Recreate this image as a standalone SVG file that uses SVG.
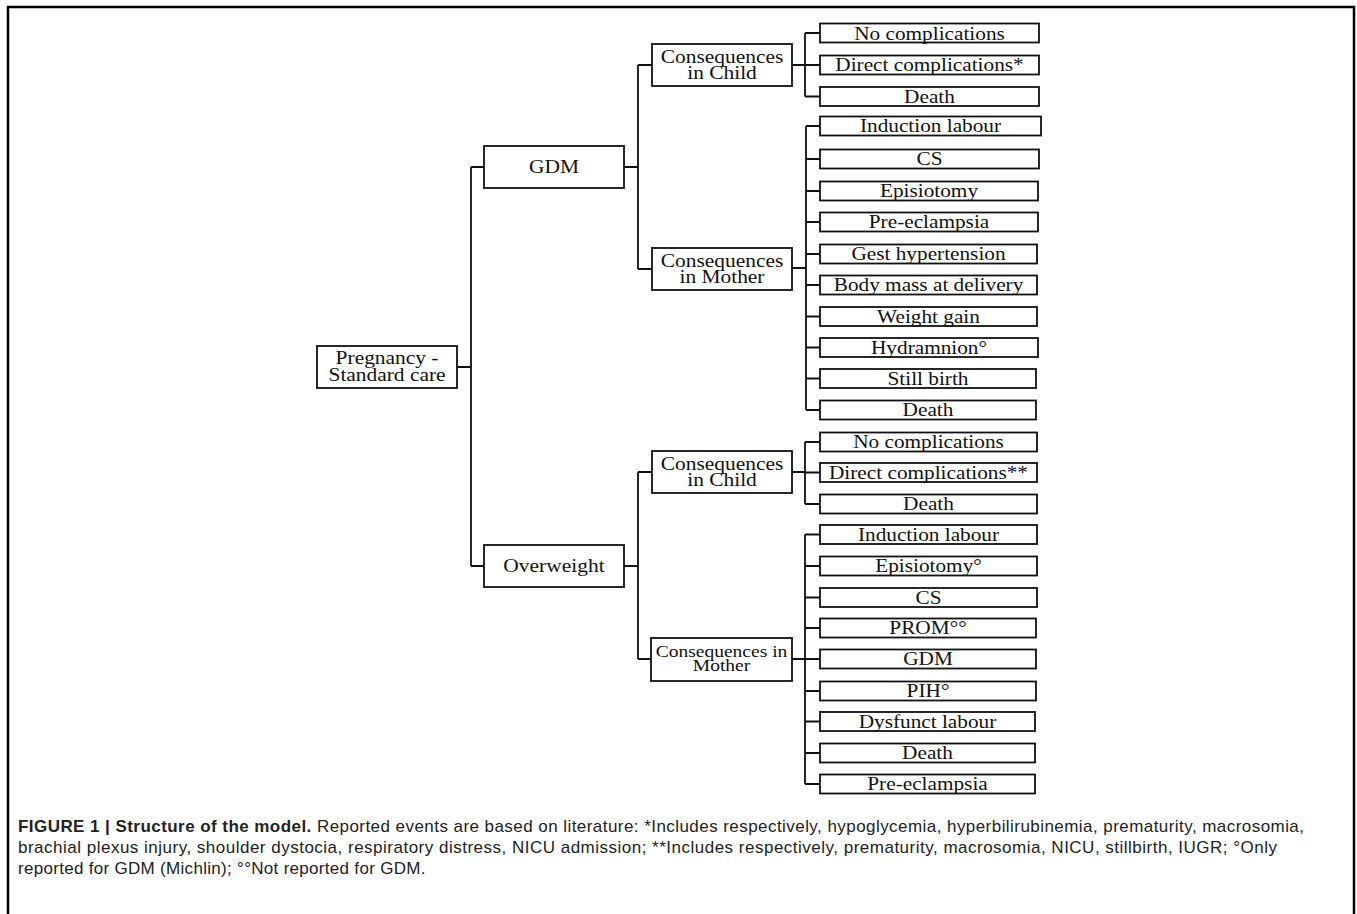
<svg xmlns="http://www.w3.org/2000/svg" width="1357" height="914" viewBox="0 0 1357 914">
<style>
.b{fill:#fff;stroke:#111;stroke-width:1.8}
.c{fill:none;stroke:#111;stroke-width:1.8}
.t{font-family:"Liberation Serif","Times New Roman",serif;font-size:19px;fill:#111;text-anchor:middle}
.d{font-family:"Liberation Serif","Times New Roman",serif;font-size:18px;fill:#111;text-anchor:middle}
.m{font-family:"Liberation Serif","Times New Roman",serif;font-size:16px;fill:#111;text-anchor:middle}
.cap{font-family:"Liberation Sans",Arial,sans-serif;font-size:17px;fill:#222}
</style>
<rect width="1357" height="914" fill="#fff"/>
<path d="M8,914 V7 H1354 V914" fill="none" stroke="#000" stroke-width="2.5"/>
<g id="connectors">
<path class="c" d="M457,367 H471 M471,167 V566 M471,167 H484 M471,566 H484"/>
<path class="c" d="M624,167 H638 M638,65 V269 M638,65 H652 M638,269 H652"/>
<path class="c" d="M624,566 H638 M638,472 V659 M638,472 H652 M638,659 H651"/>
<path class="c" d="M792,65 H805 M805,33 V96.5 M805,33 H820 M805,65 H820 M805,96.5 H820"/>
<path class="c" d="M792,268 H806 M806,126 V410 M806,126 H820 M806,159 H820 M806,191 H820 M806,222 H820 M806,254 H820 M806,285 H820 M806,316.5 H820 M806,347.5 H820 M806,378.5 H820 M806,410 H820"/>
<path class="c" d="M792,472 H805 M805,442 V504 M805,442 H820 M805,472.5 H820 M805,504 H820"/>
<path class="c" d="M792,659 H805 M805,534.5 V784 M805,534.5 H820 M805,566 H820 M805,597.5 H820 M805,628 H820 M805,659 H820 M805,691 H820 M805,721.5 H820 M805,753 H820 M805,784 H820"/>
</g>
<g id="root"><rect class="b" x="317" y="346" width="140" height="42"/><text class="d" transform="translate(387 363.5) scale(1.19 1)">Pregnancy -</text><text class="d" transform="translate(387 380.5) scale(1.19 1)">Standard care</text></g>
<g id="gdm"><rect class="b" x="484" y="146" width="140" height="42"/><text class="t" transform="translate(554 173) scale(1.13 1)">GDM</text></g>
<g id="overweight"><rect class="b" x="484" y="545" width="140" height="42"/><text class="t" transform="translate(554 572) scale(1.13 1)">Overweight</text></g>
<g id="gdm-child"><rect class="b" x="652" y="44" width="140" height="42"/><text class="d" transform="translate(722 62.5) scale(1.19 1)">Consequences</text><text class="d" transform="translate(722 79) scale(1.19 1)">in Child</text></g>
<g id="gdm-mother"><rect class="b" x="652" y="248" width="140" height="42"/><text class="d" transform="translate(722 266.5) scale(1.19 1)">Consequences</text><text class="d" transform="translate(722 283) scale(1.19 1)">in Mother</text></g>
<g id="ow-child"><rect class="b" x="652" y="451" width="140" height="42"/><text class="d" transform="translate(722 469.5) scale(1.19 1)">Consequences</text><text class="d" transform="translate(722 486) scale(1.19 1)">in Child</text></g>
<g id="ow-mother"><rect class="b" x="651" y="638" width="141" height="43"/><text class="m" transform="translate(721.5 657) scale(1.22 1)">Consequences in</text><text class="m" transform="translate(721.5 671) scale(1.22 1)">Mother</text></g>
<g id="gc1"><rect class="b" x="820" y="23.5" width="219" height="19"/><text class="t" transform="translate(929.5 39.5) scale(1.12 1)">No complications</text></g>
<g id="gc2"><rect class="b" x="820" y="55.5" width="219" height="19"/><text class="t" transform="translate(929.5 71) scale(1.12 1)">Direct complications*</text></g>
<g id="gc3"><rect class="b" x="820" y="87" width="219" height="19"/><text class="t" transform="translate(929.5 102.5) scale(1.12 1)">Death</text></g>
<g id="gm1"><rect class="b" x="820" y="116.5" width="221" height="19"/><text class="t" transform="translate(930.5 132) scale(1.12 1)">Induction labour</text></g>
<g id="gm2"><rect class="b" x="820" y="149.5" width="219" height="19"/><text class="t" transform="translate(929.5 165) scale(1.12 1)">CS</text></g>
<g id="gm3"><rect class="b" x="820" y="181.5" width="218" height="19"/><text class="t" transform="translate(929 197) scale(1.12 1)">Episiotomy</text></g>
<g id="gm4"><rect class="b" x="820" y="212.5" width="218" height="19"/><text class="t" transform="translate(929 228) scale(1.12 1)">Pre-eclampsia</text></g>
<g id="gm5"><rect class="b" x="820" y="244.5" width="217" height="19"/><text class="t" transform="translate(928.5 260) scale(1.12 1)">Gest hypertension</text></g>
<g id="gm6"><rect class="b" x="820" y="275.5" width="217" height="19"/><text class="t" transform="translate(928.5 291) scale(1.12 1)">Body mass at delivery</text></g>
<g id="gm7"><rect class="b" x="820" y="307" width="217" height="19"/><text class="t" transform="translate(928.5 322.5) scale(1.12 1)">Weight gain</text></g>
<g id="gm8"><rect class="b" x="820" y="338" width="218" height="19"/><text class="t" transform="translate(929 353.5) scale(1.12 1)">Hydramnion°</text></g>
<g id="gm9"><rect class="b" x="820" y="369" width="216" height="19"/><text class="t" transform="translate(928 384.5) scale(1.12 1)">Still birth</text></g>
<g id="gm10"><rect class="b" x="820" y="400.5" width="216" height="19"/><text class="t" transform="translate(928 416) scale(1.12 1)">Death</text></g>
<g id="oc1"><rect class="b" x="820" y="432.5" width="217" height="19"/><text class="t" transform="translate(928.5 448) scale(1.12 1)">No complications</text></g>
<g id="oc2"><rect class="b" x="820" y="463" width="217" height="19"/><text class="t" transform="translate(928.5 478.5) scale(1.12 1)">Direct complications**</text></g>
<g id="oc3"><rect class="b" x="820" y="494.5" width="217" height="19"/><text class="t" transform="translate(928.5 510) scale(1.12 1)">Death</text></g>
<g id="om1"><rect class="b" x="820" y="525" width="217" height="19"/><text class="t" transform="translate(928.5 540.5) scale(1.12 1)">Induction labour</text></g>
<g id="om2"><rect class="b" x="820" y="556.5" width="217" height="19"/><text class="t" transform="translate(928.5 572) scale(1.12 1)">Episiotomy°</text></g>
<g id="om3"><rect class="b" x="820" y="588" width="217" height="19"/><text class="t" transform="translate(928.5 603.5) scale(1.12 1)">CS</text></g>
<g id="om4"><rect class="b" x="820" y="618.5" width="216" height="19"/><text class="t" transform="translate(928 634) scale(1.12 1)">PROM°°</text></g>
<g id="om5"><rect class="b" x="820" y="649.5" width="216" height="19"/><text class="t" transform="translate(928 665) scale(1.12 1)">GDM</text></g>
<g id="om6"><rect class="b" x="820" y="681.5" width="216" height="19"/><text class="t" transform="translate(928 697) scale(1.12 1)">PIH°</text></g>
<g id="om7"><rect class="b" x="820" y="712" width="215" height="19"/><text class="t" transform="translate(927.5 727.5) scale(1.12 1)">Dysfunct labour</text></g>
<g id="om8"><rect class="b" x="820" y="743.5" width="215" height="19"/><text class="t" transform="translate(927.5 759) scale(1.12 1)">Death</text></g>
<g id="om9"><rect class="b" x="820" y="774.5" width="215" height="19"/><text class="t" transform="translate(927.5 790) scale(1.12 1)">Pre-eclampsia</text></g>
<g id="caption">
<text class="cap" x="18" y="832" textLength="1286" lengthAdjust="spacing"><tspan font-weight="bold">FIGURE 1 | Structure of the model.</tspan> Reported events are based on literature: *Includes respectively, hypoglycemia, hyperbilirubinemia, prematurity, macrosomia,</text>
<text class="cap" x="18" y="853" textLength="1259" lengthAdjust="spacing">brachial plexus injury, shoulder dystocia, respiratory distress, NICU admission; **Includes respectively, prematurity, macrosomia, NICU, stillbirth, IUGR; °Only</text>
<text class="cap" x="18" y="874" letter-spacing="0.3">reported for GDM (Michlin); °°Not reported for GDM.</text>
</g>
</svg>
